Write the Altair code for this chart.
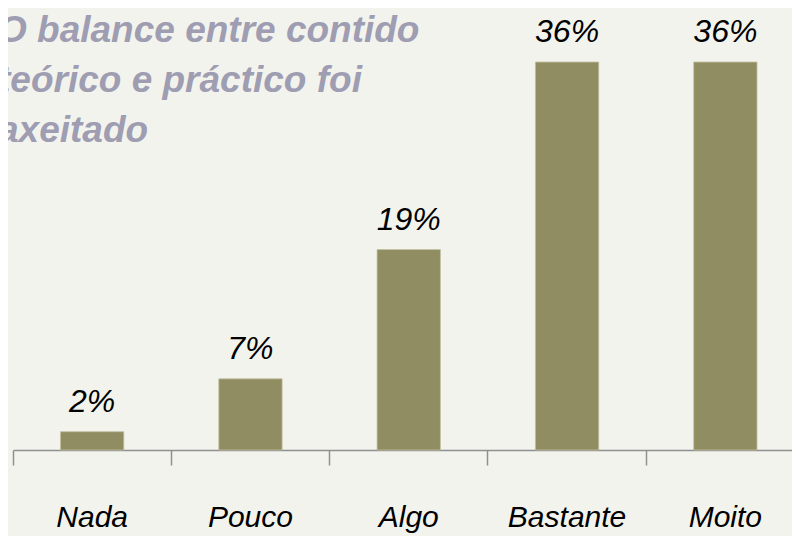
import altair as alt
import pandas as pd

categories = ["Nada", "Pouco", "Algo", "Bastante", "Moito"]
shares = [0.017, 0.066, 0.186, 0.36, 0.36]
title_lines = ["O balance entre contido", "teórico e práctico foi", "axeitado"]

df = pd.DataFrame({"categoria": categories, "valor": shares})

BG = "#f3f3ee"
BAR = "#918d62"
FONT = "Liberation Sans"

x = alt.X(
    "categoria:N",
    sort=categories,
    scale=alt.Scale(paddingInner=0, paddingOuter=0),
    axis=alt.Axis(
        title=None,
        bandPosition=0,
        domainColor="#8f8f8f",
        domainWidth=1.5,
        tickColor="#8f8f8f",
        tickWidth=1.5,
        tickSize=15,
        labelFont=FONT,
        labelFontStyle="italic",
        labelFontSize=30,
        labelColor="#000000",
        labelBaseline="alphabetic",
        labelPadding=61,
        labelAngle=0,
    ),
)
y = alt.Y("valor:Q", scale=alt.Scale(domain=[0, 0.36], nice=False), axis=None)

bars = alt.Chart(df).mark_bar(
    width=alt.RelativeBandSize(0.4), color=BAR, stroke="#c2c0a0", strokeWidth=0.8
).encode(x=x, y=y)

labels = alt.Chart(df).mark_text(
    font=FONT, fontStyle="italic", fontSize=32, color="#000000",
    baseline="alphabetic", dy=-20
).encode(x=x, y=y, text=alt.Text("valor:Q", format=".0%"))

chart = (
    (bars + labels)
    .properties(
        width=791.5,
        height=388,
        padding={"left": 5, "top": 54, "right": -12.5, "bottom": 86},
        autosize=alt.AutoSizeParams(type="none"),
        background=BG,
        title=alt.TitleParams(
            text=title_lines,
            anchor="start",
            frame="group",
            orient="top",
            offset=0,
            dx=-15,
            dy=163,
            baseline="alphabetic",
            font=FONT,
            fontStyle="italic",
            fontWeight="bold",
            fontSize=37,
            lineHeight=50,
            color="#9e9db2",
        ),
    )
    .configure_view(stroke=None)
)

chart.save("out.html", embed_options={"renderer": "svg", "actions": False})
